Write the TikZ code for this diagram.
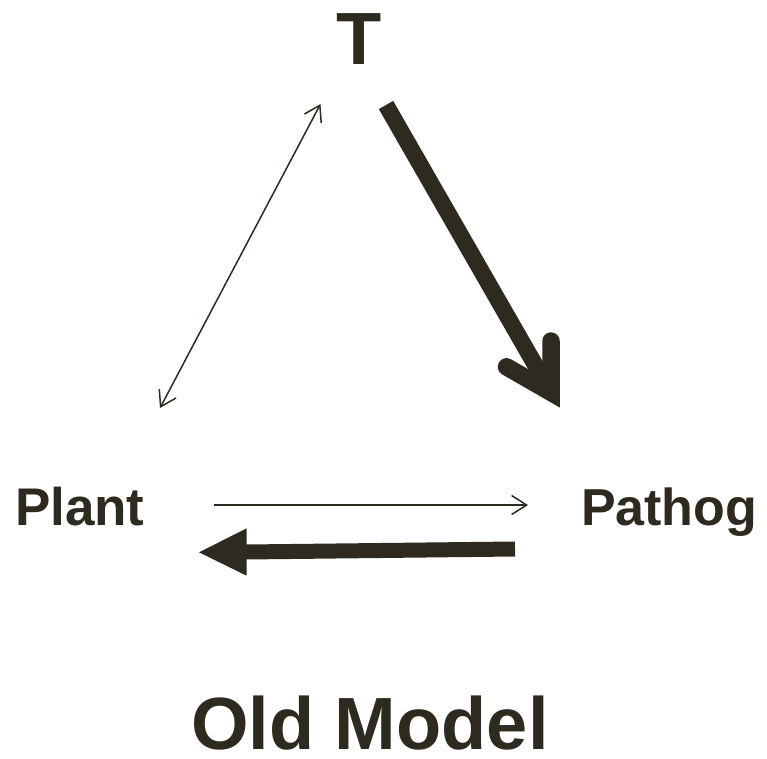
\documentclass[tikz,border=0pt]{standalone}
\usepackage{fontspec}
\setmainfont{Liberation Sans}
\usetikzlibrary{arrows.meta}
\definecolor{ink}{RGB}{46,42,32}
\begin{document}
\begin{tikzpicture}[x=1pt,y=-1pt,
  lbl/.style={inner sep=0pt,outer sep=0pt,text=ink,font=\bfseries},
  thinarrow/.style={draw=ink,line width=1.5pt},
  thickshaft/.style={draw=ink,line cap=butt}]
\useasboundingbox (0,0) rectangle (767,758);
% labels
\node[lbl,anchor=base,font=\bfseries\fontsize{74}{80}\selectfont] (T) at (359,64) {T};
\node[lbl,anchor=base west,font=\bfseries\fontsize{53}{58}\selectfont] (plant) at (15,525) {Plant};
\node[lbl,anchor=base west,font=\bfseries\fontsize{52}{58}\selectfont] (path) at (581,525) {Pathog};
\node[lbl,anchor=base west,font=\bfseries\fontsize{74}{80}\selectfont] (title) at (191,749) {Old Model};
% endpoints
\coordinate (dA) at (160,408);
\coordinate (dB) at (320.5,104);
\coordinate (hA) at (214,505);
\coordinate (hB) at (528,505);
\coordinate (bS) at (386,105);
\coordinate (bI) at (551,392.4);
\coordinate (bR) at (551,341);
\coordinate (bL) at (506.5,366.8);
\coordinate (pS) at (515,549);
\coordinate (pE) at (245,552);
\coordinate (pT) at (199,552.3);
\coordinate (pU) at (246.7,528.3);
\coordinate (pD) at (246.7,575.7);
% thin arrows
\draw[thinarrow,{Straight Barb[length=15pt,width=19pt]}-{Straight Barb[length=15pt,width=19pt]}] (dA) -- (dB);
\draw[thinarrow,-{Straight Barb[length=15pt,width=19pt]}] (hA) -- (hB);
% thick arrow from T to Pathog
\draw[thickshaft,line width=16.5pt] (bS) -- (bI);
\draw[draw=ink,line width=17.5pt,line cap=round,line join=miter] (bR) -- (bI) -- (bL);
% thick arrow from Pathog to Plant
\draw[thickshaft,line width=15pt] (pS) -- (pE);
\fill[ink] (pT) -- (pU) -- (pD) -- cycle;
\end{tikzpicture}
\end{document}
